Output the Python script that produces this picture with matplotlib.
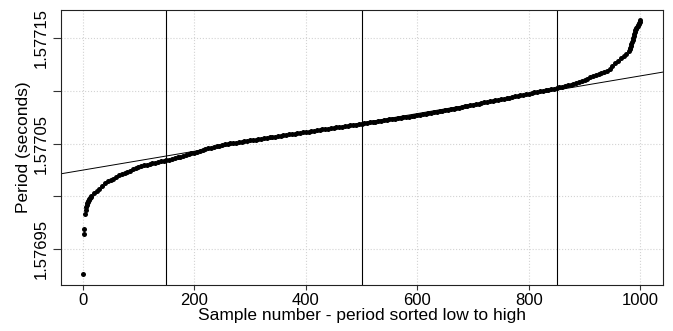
import numpy as np
import matplotlib.pyplot as plt

plt.rcParams['font.family'] = ['Liberation Sans', 'DejaVu Sans']

# sorted period measurements, offset from 1.5770 s in microseconds
base_period = 1.5770
sample = list(range(1, 16)) + list(range(20, 981, 5)) + list(range(981, 1001))
period_offset_us = [
    -74, -36, -31, -17, -13, -10, -8, -6, -5, -4, -3, -2.5, -1.5, -0.5, 0,
    3, 5, 7, 10, 13, 15, 16, 17, 18.5, 20,
    21, 22, 23, 24.5, 26, 27, 28, 28.7, 29.5, 30.2,
    31, 31.5, 32, 32.6, 33.2, 33.8, 34.3, 35, 35.8, 36.5,
    37.1, 37.8, 38.5, 39.3, 40, 40.8, 41.5, 42.3, 43.1, 44,
    44.8, 45.6, 46.3, 47, 47.6, 48.2, 48.8, 49.4, 50,
    50.4, 50.8, 51.2, 51.6, 52, 52.4, 52.8, 53.2, 53.6, 54, 54.4,
    54.8, 55.2, 55.6, 56, 56.4, 56.8, 57.2, 57.6, 58, 58.4, 58.8, 59.2,
    59.6, 60, 60.4, 60.8, 61.2,
    61.6, 62, 62.4, 62.8, 63.2, 63.6, 64, 64.4, 64.8,
    65.2, 65.6, 66, 66.3, 66.7, 67.1, 67.5, 67.9, 68.2, 68.6,
    69, 69.4, 69.9, 70.3, 70.7, 71.1, 71.5, 71.9, 72.3, 72.7,
    73.1, 73.4, 73.8, 74.2, 74.6, 75, 75.4, 75.8, 76.2, 76.6,
    77.1, 77.6, 78.1, 78.5, 79, 79.5, 80, 80.4, 80.9, 81.3, 81.8, 82.2,
    82.8, 83.3, 83.8, 84.4, 84.9, 85.4, 85.9, 86.4, 87, 87.5, 88, 88.5,
    89.2, 89.7, 90.2, 90.8, 91.3, 91.8, 92.4, 92.9, 93.4, 93.9, 94.4, 94.9,
    95.7, 96.2, 96.7, 97.2,
    97.6, 98.1, 98.7, 99.2, 99.8, 100.3, 100.9, 101.4, 102, 102.4,
    103, 103.6, 104.2, 104.8, 105.4, 106, 106.7, 107.3,
    108.3, 109.4, 110.6, 111.7, 112.9, 114,
    115.1, 116.2, 117.3, 118.4, 119.5, 120.6,
    124, 126.5, 129, 131, 133, 135, 138.5,
    139.5, 141, 143, 145, 147, 148, 150, 152, 154, 156,
    158, 159, 160, 161, 162, 163, 164, 165, 166, 167,
]
period = base_period + np.array(period_offset_us) * 1e-6

# straight-line fit through the middle of the distribution
fit_intercept = base_period + 25.0e-6
fit_slope = 0.0894e-6
marker_samples = [150, 500, 850]

xticks = [0, 200, 400, 600, 800, 1000]
yticks = [1.57695, 1.57700, 1.57705, 1.57710, 1.57715]
ylabels = ['1.57695', '', '1.57705', '', '1.57715']

fig = plt.figure(figsize=(6.73, 3.31), dpi=100)
ax = fig.add_axes([0.0906, 0.139, 0.894, 0.831])

ax.set_xlim(-39, 1040)
ax.set_ylim(1.576916, 1.577177)

ax.grid(True, color='#d3d3d3', linestyle=':', linewidth=0.8)
ax.set_axisbelow(True)

ax.plot(sample, period, 'o', color='black', markersize=3.6, markeredgewidth=0)
ax.axline((0, fit_intercept), slope=fit_slope, color='black', linewidth=0.7)
for s in marker_samples:
    ax.axvline(s, color='black', linewidth=0.8)

ax.set_xticks(xticks)
ax.set_yticks(yticks)
ax.set_yticklabels(ylabels, rotation=90, va='center')
ax.tick_params(axis='both', labelsize=12, direction='out', color='#333333', width=0.8)
ax.tick_params(axis='y', length=5.5, pad=3)
ax.tick_params(axis='x', length=3.5, pad=2)

for sp in ax.spines.values():
    sp.set_linewidth(0.8)
    sp.set_color('#222222')

ax.set_xlabel('Sample number - period sorted low to high', fontsize=12.5, labelpad=0)
ax.set_ylabel('Period (seconds)', fontsize=12.5, labelpad=2)

fig.savefig('out.png', dpi=100)
